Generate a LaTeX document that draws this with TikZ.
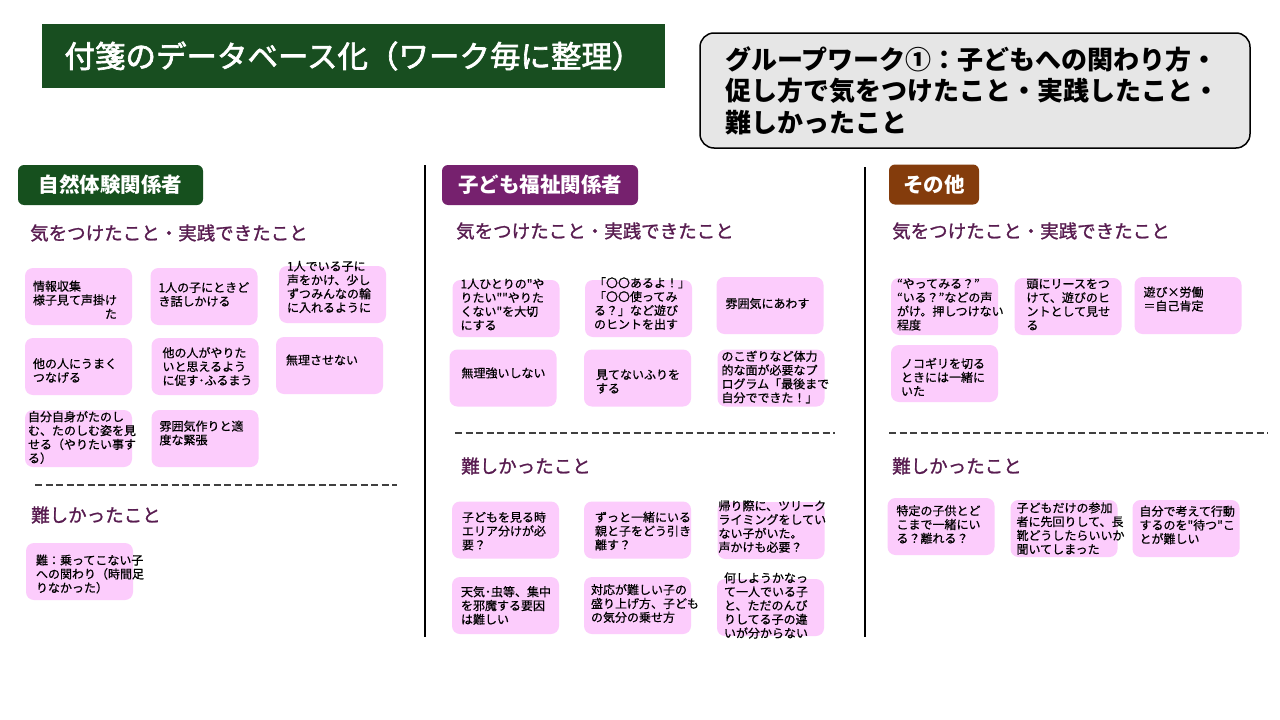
\documentclass[tikz,border=0pt]{standalone}
\usepackage{fontspec}
\setmainfont{Noto Sans CJK JP}
\newfontfamily\jpmedium{Noto Sans CJK JP}[RawFeature={embolden=1.2}]
\newfontfamily\jptitle{Noto Sans CJK JP}[RawFeature={embolden=2.2}]
\newfontfamily\jpnote{Noto Sans CJK JP}[RawFeature={embolden=0.6}]
\definecolor{titlegreen}{RGB}{24,78,32}
\definecolor{labelgreen}{RGB}{22,80,30}
\definecolor{labelpurple}{RGB}{118,33,110}
\definecolor{labelbrown}{RGB}{132,60,12}
\definecolor{headpurple}{RGB}{88,28,80}
\definecolor{notepink}{RGB}{252,204,252}
\definecolor{themegray}{RGB}{230,230,230}
\tikzset{
    note/.style={fill=notepink, rounded corners=8pt, minimum width=107pt, minimum height=57pt, inner sep=0pt},
    notetext/.style={anchor=west, align=left, inner sep=0pt, font={\jpnote\fontsize{12}{13.8}\selectfont}},
    catlabel/.style={rounded corners=6pt, minimum height=40pt, text=white, font={\fontsize{20.5}{24}\selectfont\bfseries}},
    heading/.style={anchor=west, inner sep=0pt, text=headpurple, font={\jpmedium\fontsize{18.5}{22}\selectfont}},
    separator/.style={line width=1.1pt, dash pattern=on 7pt off 3.5pt, black!75},
    divider/.style={line width=1.2pt},
}
\newcommand\sticky[4][]{%
    \node[note] (#2) at (#3) {};
    \node[notetext,#1] (#2t) at ([xshift=8pt,yshift=2pt]#2.west) {#4};}

\begin{document}
\begin{tikzpicture}[x=1pt,y=-1pt]
    \useasboundingbox[fill=white] (0,0) rectangle (1280,720);
    \node[fill=titlegreen, minimum width=623pt, minimum height=64pt, text=white, font={\jptitle\fontsize{30.5}{34}\selectfont}] (title) at (353.5,56) {付箋のデータベース化（ワーク毎に整理）};
    \node[draw, line width=1.5pt, fill=themegray, rounded corners=14pt, text width=500pt, inner xsep=25pt, minimum height=115pt, align=left, font={\fontsize{26}{31.5}\selectfont\bfseries}] (theme) at (975,90.5) {グループワーク①：子どもへの関わり方・\\促し方で気をつけたこと・実践したこと・\\難しかったこと};

    \draw[divider] (425,165) -- (425,637);
    \draw[divider] (865,167) -- (865,637);

    \node[catlabel, fill=labelgreen, minimum width=185pt] (nature) at (110.5,185) {自然体験関係者};
    \node[catlabel, fill=labelpurple, minimum width=196pt] (welfare) at (540,185) {子ども福祉関係者};
    \node[catlabel, fill=labelbrown, minimum width=90pt] (other) at (934,184.5) {その他};

    \node[heading] (care1) at (30,233) {気をつけたこと・実践できたこと};
    \node[heading] (care2) at (456,231) {気をつけたこと・実践できたこと};
    \node[heading] (care3) at (892,231) {気をつけたこと・実践できたこと};
    \node[heading] (hard1) at (31,515) {難しかったこと};
    \node[heading] (hard2) at (461,466) {難しかったこと};
    \node[heading] (hard3) at (892,466) {難しかったこと};

    \draw[separator] (35,485) -- (397,485);
    \draw[separator] (455,433) -- (835,433);
    \draw[separator] (889,433) -- (1268,433);

    \sticky[yshift=-5.5pt]{n11}{78.5,296.5}{情報収集\\様子見て声掛け\\\phantom{様子見て声掛}た}
    \sticky{n12}{204,296.5}{1人の子にときど\\き話しかける}
    \sticky[yshift=5.5pt]{n13}{332.5,294.5}{1人でいる子に\\声をかけ、少し\\ずつみんなの輪\\に入れるように}
    \sticky[yshift=-6pt]{n14}{78.5,366.5}{他の人にうまく\\つなげる}
    \sticky[xshift=3pt,yshift=-2pt]{n15}{205,366.5}{他の人がやりた\\いと思えるよう\\に促す･ふるまう}
    \sticky[xshift=2pt,yshift=3.5pt]{n16}{329.5,365.5}{無理させない}
    \sticky[xshift=-5pt,yshift=-1pt]{n17}{78.5,438.5}{自分自身がたのし\\む、たのしむ姿を見\\せる（やりたい事す\\る）}
    \sticky[yshift=3.5pt]{n18}{205,438.5}{雰囲気作りと適\\度な緊張}
    \sticky[xshift=2pt,yshift=-4.5pt]{d11}{79.5,571.5}{難：乗ってこない子\\への関わり（時間足\\りなかった）}

    \sticky[yshift=2pt]{n21}{506,308.5}{1人ひとりの"や\\りたい""やりた\\くない"を大切\\にする}
    \sticky[xshift=1pt,yshift=3pt]{n22}{638.5,308.5}{「〇〇あるよ！」\\「〇〇使ってみ\\る？」など遊び\\のヒントを出す}
    \sticky[xshift=1pt]{n23}{770,305.5}{雰囲気にあわす}
    \sticky[xshift=4pt,yshift=3pt]{n24}{503,378}{無理強いしない}
    \sticky[xshift=4pt,yshift=-5.5pt]{n25}{637.5,378}{見てないふりを\\する}
    \sticky[xshift=-4pt,yshift=-1pt]{n26}{771,378}{のこぎりなど体力\\的な面が必要なプ\\ログラム「最後まで\\自分でできた！」}
    \sticky[xshift=2pt,yshift=-3pt]{d21}{505.5,530}{子どもを見る時\\エリア分けが必\\要？}
    \sticky[xshift=3pt,yshift=-3pt]{d22}{637.5,530}{ずっと一緒にいる\\親と子をどう引き\\離す？}
    \sticky[xshift=-7pt,yshift=2pt]{d23}{771,530.5}{帰り際に、ツリーク\\ライミングをしてい\\ない子がいた。\\声かけも必要？}
    \sticky[xshift=1pt,yshift=-2pt]{d24}{505.5,605.5}{天気･虫等、集中\\を邪魔する要因\\は難しい}
    \sticky[xshift=-1pt]{d25}{637.5,605.5}{対応が難しい子の\\盛り上げ方、子ども\\の気分の乗せ方}
    \sticky[xshift=-1pt]{d26}{770.5,607.5}{何しようかなっ\\て一人でいる子\\と、ただのんび\\りしてる子の違\\いが分からない}

    \sticky[xshift=-2pt]{n31}{944.5,306.5}{“やってみる？”\\“いる？”などの声\\がけ。押しつけない\\程度}
    \sticky[xshift=4pt]{n32}{1068,306.5}{頭にリースをつ\\けて、遊びのヒ\\ントとして見せ\\る}
    \sticky[xshift=1pt,yshift=4.5pt]{n33}{1188,305.5}{遊び×労働\\＝自己肯定}
    \sticky[xshift=2pt,yshift=-5.5pt]{n34}{944.5,373.5}{ノコギリを切る\\ときには一緒に\\いた}
    \sticky[xshift=1pt]{d31}{941,526.5}{特定の子供とど\\こまで一緒にい\\る？離れる？}
    \sticky[xshift=-2pt,yshift=-2pt]{d32}{1064,528.5}{子どもだけの参加\\者に先回りして、長\\靴どうしたらいいか\\聞いてしまった}
    \sticky[xshift=-1pt,yshift=1.5pt]{d33}{1186,528.5}{自分で考えて行動\\するのを"待つ"こ\\とが難しい}
\end{tikzpicture}
\end{document}
